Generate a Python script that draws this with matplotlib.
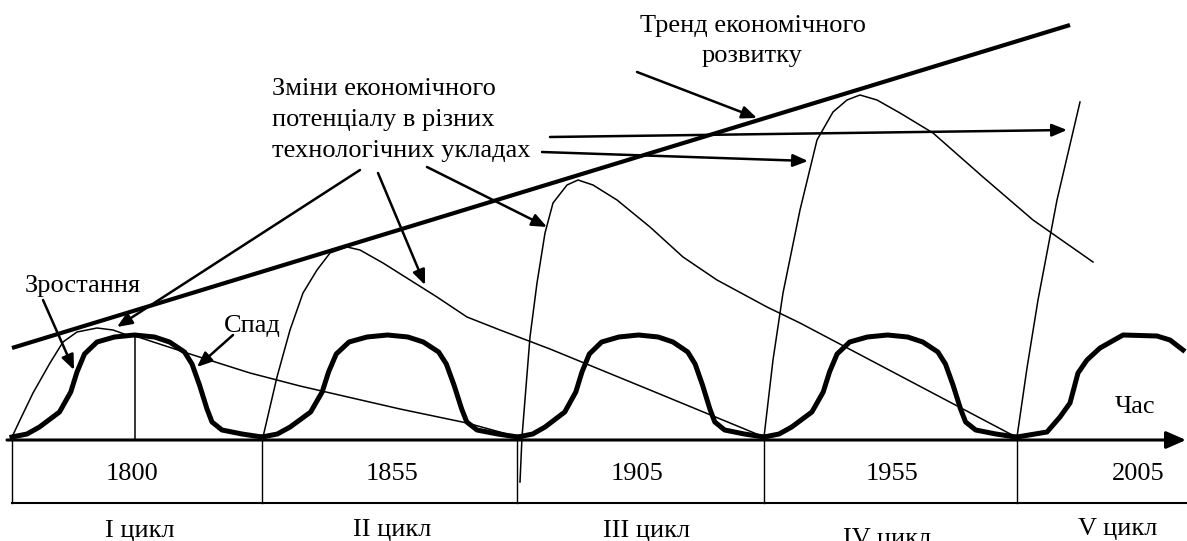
import matplotlib
matplotlib.use("Agg")
import matplotlib.pyplot as plt

plt.rcParams["font.family"] = ["Liberation Serif", "DejaVu Serif"]

# canvas in pixel units of the original picture (y grows downward)
W, H = 1187, 541
base_y = 437          # level of cycle minima
axis_y = 440          # time axis
box_bottom = 503

# trend of economic development
trend_x = [12, 1070]
trend_y = [348, 25]

# long-wave cycles (bold): start of each cycle and common profile
cycle_starts = [12, 262, 518, 764, 1016]
profile_frac = [0.00, 0.06, 0.11, 0.19, 0.235, 0.26, 0.29, 0.34, 0.41, 0.49,
                0.57, 0.63, 0.69, 0.72, 0.75, 0.78, 0.80, 0.84, 0.92, 1.00]
profile_h = [0, 3, 10, 25, 45, 65, 83, 95, 100, 102,
             100, 95, 85, 73, 52, 28, 15, 7, 3, 0]

# last (unfinished) cycle
cycle5_x = [1017, 1047, 1060, 1070, 1078, 1087, 1100, 1123, 1157, 1170, 1183]
cycle5_y = [437, 432, 417, 403, 373, 360, 348, 335, 336, 340, 350]

# economic potential in different technological modes (thin)
pot1_x = [12, 20, 33, 50, 63, 77, 97, 113, 127, 135]
pot1_y = [437, 420, 393, 363, 342, 332, 328, 330, 335, 336]
fall1_x = [135, 190, 250, 300, 400, 467, 518]
fall1_y = [336, 354, 373, 386, 409, 423, 437]

pot2_x = [263, 277, 290, 303, 317, 330, 347, 360, 383, 410, 437, 467, 500, 550, 650, 764]
pot2_y = [437, 377, 330, 293, 270, 253, 247, 250, 263, 280, 297, 317, 330, 349, 390, 437]

pot3_x = [520, 522, 530, 537, 545, 553, 567, 578, 593, 617, 650, 683, 717, 767, 800, 1016]
pot3_y = [482, 437, 337, 283, 233, 203, 185, 180, 185, 200, 227, 257, 280, 307, 323, 437]

pot4_x = [764, 773, 783, 800, 817, 833, 847, 860, 877, 900, 933, 983, 1033, 1093]
pot4_y = [437, 360, 293, 210, 140, 112, 100, 95, 100, 113, 133, 177, 220, 262]

pot5_x = [1017, 1027, 1038, 1057, 1080]
pot5_y = [437, 368, 300, 200, 102]

# dividers of the period table
divider_x = [12, 262, 517, 764, 1017]
years = ["1800", "1855", "1905", "1955", "2005"]
year_x = [132, 392, 637, 892, 1138]
cycles = ["I цикл", "II цикл", "III цикл", "IV цикл", "V цикл"]
cycle_lab_x = [140, 392, 647, 887, 1118]
cycle_lab_y = [537, 536, 537, 545, 535]

# pointer arrows: (start, tip)
arrows = [
    ((43, 300), (74, 370)),      # Зростання
    ((233, 335), (197, 367)),    # Спад
    ((360, 170), (117, 327)),
    ((378, 173), (425, 285)),
    ((427, 167), (547, 227)),
    ((542, 152), (808, 161)),
    ((550, 137), (1067, 130)),
    ((637, 72), (757, 118)),     # trend
]

fig = plt.figure(figsize=(W / 100, H / 100), dpi=100)
ax = fig.add_axes([0, 0, 1, 1])
ax.set_xlim(0, W)
ax.set_ylim(H, 0)
ax.axis("off")

fs = 19

# table under the axis
ax.plot([12, W], [box_bottom, box_bottom], color="black", lw=1.5)
for x in divider_x:
    ax.plot([x, x], [axis_y, box_bottom], color="black", lw=1.0)
for lab, x in zip(years, year_x):
    ax.text(x, 480, lab, fontsize=fs, ha="center", va="baseline")
for lab, x, y in zip(cycles, cycle_lab_x, cycle_lab_y):
    ax.text(x, y, lab, fontsize=fs, ha="center", va="baseline")

# time axis
ax.annotate("", xy=(1186, axis_y), xytext=(7, axis_y),
            arrowprops=dict(arrowstyle="-|>,head_length=0.8,head_width=0.35",
                            mutation_scale=15, lw=2.2, color="black",
                            shrinkA=0, shrinkB=0))
ax.text(1135, 413, "Час", fontsize=fs, ha="center", va="baseline")

# trend
ax.plot(trend_x, trend_y, color="black", lw=3.0, solid_capstyle="butt")

# bold cycles
for i in range(4):
    x0 = cycle_starts[i]
    w = cycle_starts[i + 1] - x0
    xs = [x0 + f * w for f in profile_frac]
    ys = [base_y - h for h in profile_h]
    ax.plot(xs, ys, color="black", lw=3.6, solid_joinstyle="round")
ax.plot(cycle5_x, cycle5_y, color="black", lw=3.6, solid_joinstyle="round")

# thin potential curves
for xs, ys in [(pot1_x, pot1_y), (fall1_x, fall1_y), (pot2_x, pot2_y),
               (pot3_x, pot3_y), (pot4_x, pot4_y), (pot5_x, pot5_y)]:
    ax.plot(xs, ys, color="black", lw=1.1, solid_joinstyle="round")
ax.plot([135, 135], [336, axis_y], color="black", lw=1.1)

# pointer arrows
for (sx, sy), (tx, ty) in arrows:
    ax.annotate("", xy=(tx, ty), xytext=(sx, sy),
                arrowprops=dict(arrowstyle="-|>,head_length=0.6,head_width=0.25",
                                mutation_scale=15, lw=1.8, color="black",
                                shrinkA=0, shrinkB=0))

# labels
ax.text(753, 32, "Тренд економічного", fontsize=fs, ha="center", va="baseline")
ax.text(752, 62, "розвитку", fontsize=fs, ha="center", va="baseline")
ax.text(272, 95, "Зміни економічного", fontsize=fs, ha="left", va="baseline")
ax.text(272, 126, "потенціалу в різних", fontsize=fs, ha="left", va="baseline")
ax.text(272, 157, "технологічних укладах", fontsize=fs, ha="left", va="baseline")
ax.text(83, 292, "Зростання", fontsize=fs, ha="center", va="baseline")
ax.text(252, 332, "Спад", fontsize=fs, ha="center", va="baseline")

fig.savefig("out.png", dpi=100, facecolor="white")
